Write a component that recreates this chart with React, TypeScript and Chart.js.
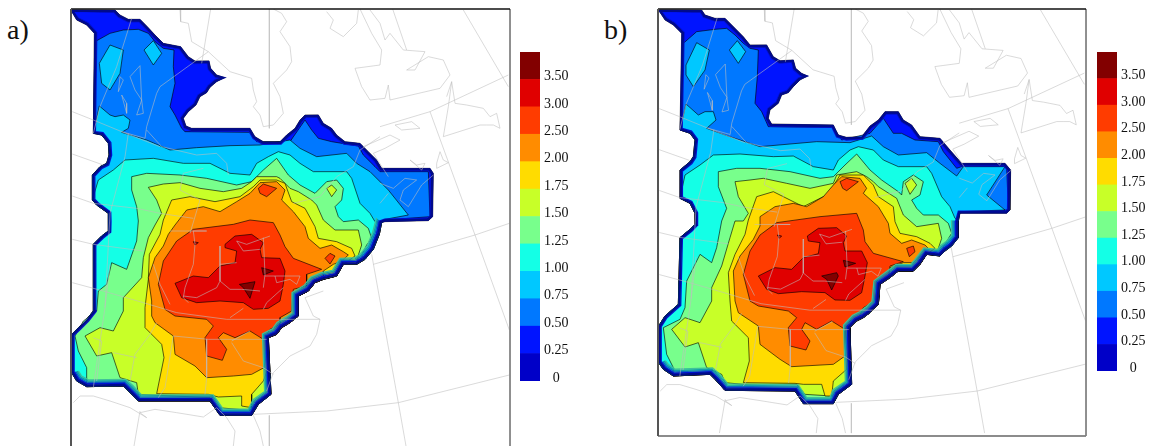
import React, { useEffect, useRef } from "react";
import { Chart, registerables } from "chart.js";
Chart.register(...registerables);

type P = number[];
const levelLabels = ["0", "0.25", "0.50", "0.75", "1.00", "1.25", "1.50", "1.75", "2.00", "2.50", "3.00", "3.50"];
const levelColors = ["#0000c8", "#0014ff", "#0078ff", "#00c8ff", "#14ffe6", "#78ff8c", "#c8ff28", "#ffdc00", "#ff8c00", "#ff3c00", "#e00000", "#820000"];
const oneBand = [1, 1, 1, 1, 1, 1, 1, 1, 1, 1, 1, 1];

// ---------- panel a ----------
const edgeNA: P[] = [[33,30],[165,30],[180,45],[205,58],[240,58],[262,80],[285,105],[310,130],[362,140],[385,170],[405,183],[447,183],[452,205],[470,225],[493,233],[470,245],[450,262],[440,278],[420,290],[408,315],[385,335],[370,355],[378,378],[395,385],[570,385],[585,410],[610,425],[660,425],[680,405],[705,385],[720,360],[735,345],[775,345],[790,370],[815,385],[830,405],[855,425],[900,430],[925,455],[950,480],[965,505],[1110,505],[1120,520],[1118,650],[1105,662],[975,665]];
const edgeSA: P[] = [[965,668],[958,703],[940,748],[915,778],[890,793],[850,793],[830,828],[790,838],[765,848],[745,873],[715,888],[715,948],[690,968],[665,983],[650,1003],[625,1013],[633,1183],[595,1213],[575,1246],[480,1246],[450,1203],[235,1203],[205,1173],[190,1158],[80,1160],[50,1143],[35,1118]];
const edgeWA: P[] = [[35,1003],[55,983],[80,958],[100,933],[100,733],[125,708],[145,693],[145,663],[145,640],[110,615],[97,600],[97,525],[120,500],[140,490],[147,465],[145,430],[125,405],[100,400],[103,100],[80,75],[50,60]];
const a02: P[] = [[105,125],[150,100],[190,90],[235,88],[265,100],[285,125],[310,145],[342,150],[340,200],[345,250],[330,320],[345,345],[365,385],[375,395],[570,397],[590,425],[690,425],[735,360],[755,390],[775,415],[815,425],[895,438],[910,465],[945,500],[960,515],[1105,515],[1110,650],[975,660]];
const a03: P[] = [[118,318],[150,345],[165,350],[190,345],[210,360],[205,385],[185,397],[260,420],[330,450],[410,443],[510,437],[600,435],[690,420],[720,445],[770,470],[860,460],[890,490],[930,515],[985,570],[1045,645],[975,658]];
const a03i1: P[] = [[118,190],[150,135],[190,150],[180,220],[150,270],[125,250]];
const a03i2: P[] = [[252,150],[280,122],[305,160],[280,195]];
const a04: P[] = [[115,540],[160,510],[195,480],[280,475],[370,490],[450,490],[510,520],[570,525],[590,490],[625,470],[655,455],[690,465],[720,490],[760,515],[860,515],[875,535],[900,610],[930,640],[945,665]];
const a05: P[] = [[215,530],[260,520],[360,525],[440,535],[530,555],[575,545],[610,510],[650,475],[685,525],[720,555],[765,580],[775,570],[800,545],[830,540],[850,565],[845,600],[825,620],[835,650],[850,665],[895,660],[925,685],[935,715],[920,735],[905,765]];
const a05w: P[] = [[80,1143],[80,1103],[55,1053],[45,1008],[70,963],[110,933],[115,873],[140,853],[155,788],[200,808],[230,723],[235,663],[230,620],[215,570]];
const a06i: P[] = [[800,565],[815,555],[830,570],[815,590]];
const a06: P[] = [[265,562],[310,552],[360,548],[420,565],[490,575],[545,565],[575,545],[590,530],[650,530],[660,535],[690,565],[715,575],[755,600],[770,615],[790,660],[825,690],[895,690],[905,735],[895,765],[890,793],[850,793],[830,828],[790,838],[765,848],[745,873],[715,888],[715,948],[690,968],[665,983],[650,1003],[625,1013],[630,1183],[600,1193],[570,1231],[475,1223],[450,1193],[235,1183],[230,1148],[180,1133],[155,1058],[110,1068],[75,1008],[120,983],[160,993],[190,933],[190,893],[245,833],[250,773],[265,713],[285,675],[305,640],[290,600]];
const a07: P[] = [[310,660],[335,600],[390,590],[465,605],[540,590],[580,560],[600,540],[650,540],[675,550],[695,605],[735,625],[765,680],[775,715],[830,725],[875,745],[885,768],[850,793],[830,828],[790,838],[765,848],[745,873],[715,888],[715,948],[690,968],[665,983],[650,1003],[625,1013],[625,1103],[610,1143],[575,1183],[575,1223],[545,1218],[545,1188],[475,1191],[445,1183],[290,1181],[312,1073],[305,1033],[255,983],[255,923],[265,838],[268,763],[300,703]];
const a08: P[] = [[345,675],[380,630],[430,620],[480,635],[530,605],[570,580],[600,548],[650,545],[675,570],[665,600],[700,635],[735,680],[745,715],[780,745],[815,735],[850,755],[865,765],[845,783],[820,793],[790,813],[790,838],[765,848],[745,873],[715,888],[715,948],[690,968],[665,983],[650,1003],[625,1013],[612,1103],[575,1123],[520,1128],[440,1133],[405,1098],[345,1063],[340,1008],[285,968],[275,948],[275,903],[265,833],[285,773],[310,738],[325,703]];
const a09: P[] = [[350,723],[400,688],[520,673],[570,660],[640,668],[660,705],[675,740],[700,775],[785,808],[740,823],[740,858],[700,868],[695,933],[660,953],[660,973],[630,988],[610,1018],[570,993],[525,1013],[490,998],[475,1013],[500,1048],[487,1081],[440,1068],[435,1013],[460,978],[440,958],[345,948],[315,928],[295,853],[310,783]];
const a09i1: P[] = [[595,565],[610,552],[650,565],[620,590],[600,580]];
const a09i2: P[] = [[795,775],[810,760],[825,768],[810,792]];
const a10: P[] = [[495,733],[525,708],[575,703],[610,728],[600,748],[605,773],[660,775],[675,813],[670,853],[660,903],[625,925],[580,928],[550,908],[480,903],[410,908],[365,893],[345,850],[400,828],[445,833],[480,798],[525,788],[530,753],[495,743]];
const a10i: P[] = [[400,725],[415,728],[405,735]];
const a11i1: P[] = [[605,803],[640,813],[610,825]];
const a11i2: P[] = [[538,853],[585,845],[570,895],[550,863]];

// ---------- panel b ----------
const edgeNB: P[] = [[26,30],[155,30],[165,45],[195,55],[225,55],[255,85],[280,110],[300,135],[350,135],[370,170],[390,182],[430,180],[437,205],[455,220],[472,228],[450,240],[430,260],[415,278],[395,285],[385,310],[360,330],[355,355],[365,372],[550,375],[565,405],[590,412],[635,410],[660,378],[685,360],[705,335],[745,335],[760,360],[785,375],[810,410],[870,415],[900,450],[935,490],[1065,490],[1082,510],[1080,630],[1070,640],[930,640]];
const edgeSB: P[] = [[925,663],[925,713],[905,738],[885,753],[870,768],[830,763],[810,793],[790,813],[745,813],[720,833],[690,853],[685,913],[660,938],[640,953],[620,963],[600,983],[605,1153],[565,1183],[550,1211],[460,1211],[435,1173],[225,1171],[195,1138],[180,1123],[70,1128],[40,1108],[26,1088]];
const edgeWB: P[] = [[26,978],[45,948],[85,913],[90,713],[120,688],[135,673],[135,640],[120,610],[90,595],[90,510],[120,485],[130,470],[135,420],[120,400],[90,390],[95,100],[70,75],[45,60]];
const b02: P[] = [[100,130],[140,95],[195,88],[230,85],[255,105],[280,130],[300,145],[325,150],[322,230],[315,310],[335,335],[355,380],[550,382],[575,420],[660,400],[700,355],[730,400],[755,400],[795,420],[865,425],[880,455],[920,505],[940,498],[1070,500],[1075,630],[930,635]];
const b03: P[] = [[108,312],[145,345],[165,335],[190,335],[198,360],[170,385],[240,410],[330,440],[420,432],[500,425],[600,428],[665,408],[700,440],[745,465],[830,458],[870,490],[920,528],[940,500],[1065,500],[1010,585],[1065,630],[930,635]];
const b03i1: P[] = [[108,195],[140,128],[178,150],[165,210],[130,260],[108,225]];
const b03i2: P[] = [[238,150],[262,122],[287,155],[265,190]];
const b04: P[] = [[105,525],[150,495],[190,465],[270,462],[370,470],[430,468],[490,500],[550,510],[565,480],[600,450],[625,440],[670,450],[700,480],[745,500],[830,500],[845,520],[875,590],[900,620],[915,655]];
const b05: P[] = [[205,515],[260,505],[330,505],[420,515],[510,535],[550,530],[585,495],[620,462],[660,510],[695,540],[745,575],[755,585],[760,545],[790,525],[820,545],[810,585],[785,600],[800,625],[820,645],[865,645],[895,670],[905,700],[880,740]];
const b05w: P[] = [[70,1103],[50,1063],[40,983],[90,958],[105,923],[110,843],[150,763],[185,788],[200,743],[215,663],[230,625],[205,560]];
const b06i: P[] = [[765,550],[785,535],[800,555],[780,583]];
const b06: P[] = [[255,545],[300,540],[340,535],[410,550],[480,565],[550,550],[560,525],[620,515],[650,530],[670,545],[685,560],[740,595],[760,645],[800,680],[865,670],[875,715],[865,745],[850,765],[830,763],[810,793],[790,813],[745,813],[720,833],[690,853],[685,913],[660,938],[640,953],[620,963],[600,983],[600,1133],[575,1158],[545,1188],[465,1183],[440,1153],[280,1153],[225,1148],[215,1123],[170,1103],[145,1028],[105,1041],[65,988],[105,953],[150,968],[185,903],[185,863],[215,798],[240,713],[255,663],[280,663],[295,640],[265,590]];
const b07: P[] = [[295,660],[320,590],[370,575],[460,620],[530,585],[555,550],[570,525],[640,525],[670,555],[685,590],[730,620],[735,665],[750,700],[800,710],[840,730],[855,745],[830,763],[810,793],[790,813],[745,813],[720,833],[690,853],[685,913],[660,938],[640,953],[620,963],[600,983],[590,1108],[550,1143],[545,1188],[525,1188],[515,1153],[460,1153],[435,1150],[280,1148],[298,1083],[295,1013],[245,963],[240,903],[235,818],[255,763],[285,703]];
const b08: P[] = [[330,650],[375,620],[430,610],[470,620],[520,590],[550,555],[575,530],[630,535],[650,565],[640,580],[685,620],[715,670],[720,700],[755,730],[785,720],[825,735],[835,745],[815,765],[790,788],[760,788],[720,803],[715,833],[685,853],[680,918],[640,943],[600,963],[585,993],[585,1068],[550,1093],[425,1100],[390,1078],[330,1033],[325,978],[265,938],[255,903],[250,813],[270,768],[310,718],[330,678]];
const b09: P[] = [[330,705],[380,668],[510,650],[620,640],[640,690],[645,725],[670,760],[760,785],[720,798],[715,833],[680,843],[675,903],[640,923],[630,948],[600,963],[585,988],[545,963],[500,988],[465,968],[455,988],[480,1023],[468,1050],[420,1038],[415,983],[440,953],[415,933],[325,918],[300,903],[280,823],[300,753]];
const b09i1: P[] = [[570,545],[590,535],[625,545],[590,572],[578,565]];
const b09i2: P[] = [[770,745],[790,738],[795,755],[778,770]];
const b10: P[] = [[472,708],[505,685],[560,683],[590,708],[580,728],[585,753],[635,753],[652,788],[645,828],[635,878],[600,901],[555,900],[525,878],[455,875],[385,881],[350,868],[325,828],[375,803],[425,808],[460,773],[505,761],[510,728],[475,723]];
const b10i: P[] = [[382,705],[395,708],[388,715]];
const b11i1: P[] = [[580,781],[617,790],[585,801]];
const b11i2: P[] = [[515,828],[560,818],[565,828],[545,870],[530,838]];

// ---------- shared map lines (panel-a map units) ----------
const mapLines: P[][] = [
  [[628,27],[628,385]],
  [[628,1246],[628,1338]],
  [[452,27],[425,190]],
  [[998,27],[1040,150]],
  [[1210,30],[1345,260]],
  [[960,380],[1110,335],[1345,225]],
  [[1110,335],[1245,705],[1348,990]],
  [[940,793],[1245,705],[1348,670]],
  [[580,1243],[800,1233],[1015,1208],[1348,1125]],
  [[935,763],[1015,1208],[1038,1338]],
  [[37,335],[100,360],[190,397],[300,440]],
  [[37,462],[130,495]],
  [[37,588],[100,610],[230,625],[300,640],[400,655]],
  [[37,718],[100,733],[250,753]],
  [[37,848],[130,873],[250,908],[350,938],[500,958],[780,958]],
  [[240,1233],[222,1338]],
  [[360,30],[362,65],[385,70],[395,125],[445,155],[510,215],[575,235],[580,270],[590,305],[580,320],[600,345],[610,380],[640,375],[670,340],[660,290],[640,250],[680,210],[695,185],[690,140],[660,95],[680,65],[665,40],[640,27]],
  [[800,35],[820,60],[810,85],[850,110],[890,70],[895,30]],
  [[900,27],[935,100],[965,150],[960,195],[885,205],[905,260],[930,300],[975,295],[985,255],[990,300],[1140,265],[1170,225],[1150,180],[1105,170],[1040,210],[1065,210],[1095,155],[1030,150],[990,100],[975,120],[960,70],[930,30]],
  [[1160,290],[1175,245],[1185,310],[1220,315],[1270,325],[1290,350],[1310,340],[1320,385],[1300,375],[1280,375],[1260,375],[1150,410],[1165,320],[1175,245]],
  [[1130,490],[1140,455],[1150,480],[1165,488],[1130,505],[1130,490]],
  [[1050,480],[1070,495],[1095,490],[1085,510],[1050,480]],
  [[1005,375],[1055,365],[1080,385],[1025,390],[1005,375]],
  [[910,440],[990,405],[1020,420],[975,445],[940,460],[985,530]],
  [[960,550],[1000,565],[1035,535],[1070,540],[1030,570],[1020,600],[1045,620],[1085,555],[1120,525]],
  [[960,610],[985,580]],
  [[960,410],[900,450],[880,500],[830,530],[780,590],[700,610]],
  [[185,395],[255,415],[260,380],[290,280],[300,260],[445,155]],
  [[215,55],[170,200],[120,320],[100,400]],
  [[205,400],[195,470],[150,640],[135,923]],
  [[240,197],[210,230],[225,270],[245,300],[230,345],[250,340],[245,300],[240,197]],
  [[180,230],[190,240],[175,275],[180,230]],
  [[185,285],[200,310],[200,340],[185,285]],
  [[260,390],[305,440],[410,465],[470,460],[500,490],[505,525]],
  [[430,505],[370,520],[360,570],[420,600],[390,700]],
  [[330,693],[440,693],[400,693],[405,733],[400,793],[375,863],[370,893],[385,908]],
  [[280,793],[300,853],[330,913]],
  [[480,738],[480,843],[470,863],[410,893],[370,888]],
  [[480,793],[530,788]],
  [[480,843],[510,868],[545,868],[600,873]],
  [[610,713],[615,823],[610,863]],
  [[630,708],[560,733],[530,723],[550,753],[600,748]],
  [[615,828],[720,828],[710,853],[690,838],[650,848],[645,828]],
  [[670,863],[620,908],[610,928]],
  [[550,925],[510,953]],
  [[340,1008],[445,1018],[620,1018]],
  [[515,1023],[570,993]],
  [[515,1028],[550,1083],[610,1103],[640,1123]],
  [[440,1018],[440,1133],[435,1183]],
  [[340,1008],[315,1163],[295,1193]],
  [[290,968],[270,1003],[225,1063],[210,1143]],
  [[150,793],[135,923],[110,1093],[100,1163]],
  [[160,1058],[230,1073]],
  [[100,1013],[125,1023],[110,1143]],
  [[790,873],[735,893],[760,948],[780,958],[770,1003],[750,1038],[690,1068],[640,1118],[620,1173]],
  [[40,1208],[60,1188],[100,1188],[150,1203],[210,1223],[260,1253],[240,1238],[285,1228],[350,1238],[430,1251],[470,1223],[500,1253],[525,1293],[520,1338]],
  [[580,1246],[600,1293],[610,1338]],
];

// ---------- axis ranges ----------
const rangeXA = [33, 1350];
const rangeYA = [27, 1347];
const rangeXB = [24, 1308];
const rangeYB = [27, 1308];

function insetPath(pts: P[], d: number): P[] {
  let area = 0;
  pts.forEach((p, i) => { const q = pts[(i + 1) % pts.length]; area += p[0] * q[1] - q[0] * p[1]; });
  const s = area > 0 ? 1 : -1;
  return pts.map((p, i) => {
    const a = pts[(i - 1 + pts.length) % pts.length];
    const b = pts[(i + 1) % pts.length];
    const l1 = Math.hypot(p[0] - a[0], p[1] - a[1]) || 1;
    const l2 = Math.hypot(b[0] - p[0], b[1] - p[1]) || 1;
    const nx = (-(p[1] - a[1]) / l1 - (b[1] - p[1]) / l2) * s;
    const ny = ((p[0] - a[0]) / l1 + (b[0] - p[0]) / l2) * s;
    const n = Math.hypot(nx, ny) || 1;
    return [p[0] + (nx / n) * d, p[1] + (ny / n) * d];
  });
}

const xy = (pts: P[]) => pts.map(([x, y]) => ({ x, y }));
const base = { showLine: true, pointRadius: 0, tension: 0 };

function buildPanel(
  edgeN: P[], edgeS: P[], edgeW: P[], rx: number[], ry: number[],
  bands: [number, P[]][],
) {
  const outer = [...edgeN, ...edgeS, ...edgeW];
  const ds: any[] = [];
  const poly = (level: number, pts: P[]) =>
    ds.push({ ...base, data: xy([...pts, pts[0]]), fill: "shape", backgroundColor: levelColors[level], borderColor: "rgba(0,0,0,0.78)", borderWidth: 0.8 });
  poly(0, outer);
  poly(1, insetPath(outer, 7));
  bands.forEach(([l, pts]) => poly(l, pts));
  const south = (d: number) => insetPath(outer, d).slice(edgeN.length, edgeN.length + edgeS.length);
  const ringsS: [number, string, number][] = [[21, "#3fc09a", 1.3], [17, "#10a0a8", 1.3], [13, "#0a68c0", 1.3], [9, "#0628c0", 1.3]];
  ringsS.forEach(([d, c, w]) => ds.push({ ...base, data: xy(south(d)), borderColor: c, borderWidth: w, fill: false }));
  const r1 = insetPath(outer, 8);
  ds.push({ ...base, data: xy([...r1, r1[0]]), borderColor: "#0010d8", borderWidth: 1.3, fill: false });
  const r0 = insetPath(outer, 3.5);
  ds.push({ ...base, data: xy([...r0, r0[0]]), borderColor: "#000a8c", borderWidth: 2.3, fill: false });
  mapLines.forEach((l) => ds.push({ ...base, data: xy(l), xAxisID: "mx", yAxisID: "my", borderColor: "rgba(190,190,190,0.72)", borderWidth: 0.8, fill: false }));
  const frame = (pts: P[], c: string, w: number) => ds.push({ ...base, data: xy(pts), borderColor: c, borderWidth: w, fill: false, clip: false });
  frame([[rx[0], ry[1]], [rx[1], ry[1]]], "#666666", 1.5);
  frame([[rx[1], ry[0]], [rx[1], ry[1]]], "#808080", 1);
  frame([[rx[0], ry[0]], [rx[1], ry[0]]], "#111111", 1.3);
  frame([[rx[0], ry[0]], [rx[0], ry[1]]], "#555555", 2);
  ds.forEach((d, i) => { d.order = -i; });
  return ds;
}

const belowY = (e: P[], y: number) => e.filter((p) => p[1] > y);

const datasetsA = () => buildPanel(edgeNA, edgeSA, edgeWA, rangeXA, rangeYA, [
  [2, [...a02, ...edgeSA, ...edgeWA.filter((p) => p[1] > 100)]],
  [3, a03i1], [3, a03i2],
  [3, [...a03, ...edgeSA, ...belowY(edgeWA, 325)]],
  [4, [...a04, ...edgeSA, ...belowY(edgeWA, 545)]],
  [5, [...a05, ...edgeSA.filter((p) => p[1] > 770 && p[0] >= 80), ...a05w]],
  [6, a06i],
  [6, a06], [7, a07], [8, a08], [9, a09i1], [9, a09], [9, a09i2],
  [10, a10], [10, a10i], [11, a11i1], [11, a11i2],
]);
const datasetsB = () => buildPanel(edgeNB, edgeSB, edgeWB, rangeXB, rangeYB, [
  [2, [...b02, ...edgeSB, ...edgeWB.filter((p) => p[1] > 100)]],
  [3, b03i1], [3, b03i2],
  [3, [...b03, ...edgeSB, ...belowY(edgeWB, 320)]],
  [4, [...b04, ...edgeSB, ...belowY(edgeWB, 530)]],
  [5, [...b05, ...edgeSB.filter((p) => p[1] > 745 && p[0] >= 70), ...b05w]],
  [6, b06i],
  [6, b06], [7, b07], [8, b08], [9, b09i1], [9, b09], [9, b09i2],
  [10, b10], [10, b10i], [11, b11i1], [11, b11i2],
]);

function MapPanel({ left, top, w, h, rx, ry, make }: any) {
  const ref = useRef<HTMLCanvasElement>(null);
  useEffect(() => {
    const axis = (min: number, max: number, reverse = false) => ({ type: "linear", display: false, min, max, reverse });
    const chart = new Chart(ref.current!, {
      type: "scatter",
      data: { datasets: make() },
      options: {
        animation: false, responsive: false, events: [],
        layout: { padding: 3 },
        plugins: { legend: { display: false }, tooltip: { enabled: false } },
        scales: {
          x: axis(rx[0], rx[1]), y: axis(ry[0], ry[1], true),
          mx: { ...axis(rangeXA[0], rangeXA[1]), axis: "x" }, my: { ...axis(rangeYA[0], rangeYA[1], true), axis: "y" },
        },
      },
    } as any);
    return () => chart.destroy();
  }, []);
  return <canvas ref={ref} width={w + 6} height={h + 6} style={{ position: "absolute", left: left - 3, top: top - 3, width: w + 6, height: h + 6 }} />;
}

function ColorBar({ left, top, h }: any) {
  const ref = useRef<HTMLCanvasElement>(null);
  useEffect(() => {
    const chart = new Chart(ref.current!, {
      type: "bar",
      data: {
        labels: ["levels"],
        datasets: oneBand.map((v, i) => ({ data: [v], backgroundColor: levelColors[i], stack: "s", barPercentage: 1, categoryPercentage: 1, borderWidth: 0 })),
      },
      options: {
        animation: false, responsive: false, events: [],
        layout: { padding: { top: 4, bottom: 8, left: 0, right: 0 } },
        plugins: { legend: { display: false }, tooltip: { enabled: false } },
        scales: {
          x: { display: false, stacked: true },
          y: {
            stacked: true, position: "right", min: 0, max: oneBand.length,
            afterFit: (s: any) => { s.width = 34; s.paddingTop = 0; s.paddingBottom = 0; },
            border: { display: false },
            grid: { display: false, drawTicks: false },
            ticks: {
              stepSize: 1, autoSkip: false, padding: 4, labelOffset: -3, color: "#111",
              crossAlign: "center", maxRotation: 0,
              font: { family: "'Liberation Serif'", size: 14 },
              callback: (v: any) => levelLabels[v] ?? "",
            },
          },
        },
      },
    } as any);
    return () => chart.destroy();
  }, []);
  return <canvas ref={ref} width={54} height={h + 12} style={{ position: "absolute", left, top: top - 4, width: 54, height: h + 12 }} />;
}

const tag = (left: number): React.CSSProperties => ({ position: "absolute", left, top: 14, fontFamily: "'Liberation Serif'", fontSize: 28, lineHeight: "32px", color: "#111" });

export default function App() {
  return (
    <div style={{ position: "absolute", left: 0, top: 0, width: 1152, height: 446, overflow: "hidden", background: "#fff" }}>
      <MapPanel left={71} top={9} w={439} h={440} rx={rangeXA} ry={rangeYA} make={datasetsA} />
      <MapPanel left={658} top={9} w={428} h={427} rx={rangeXB} ry={rangeYB} make={datasetsB} />
      <ColorBar left={520} top={52} h={329} />
      <ColorBar left={1097} top={52} h={319} />
      <div style={tag(7)}>a)</div>
      <div style={tag(604)}>b)</div>
    </div>
  );
}
